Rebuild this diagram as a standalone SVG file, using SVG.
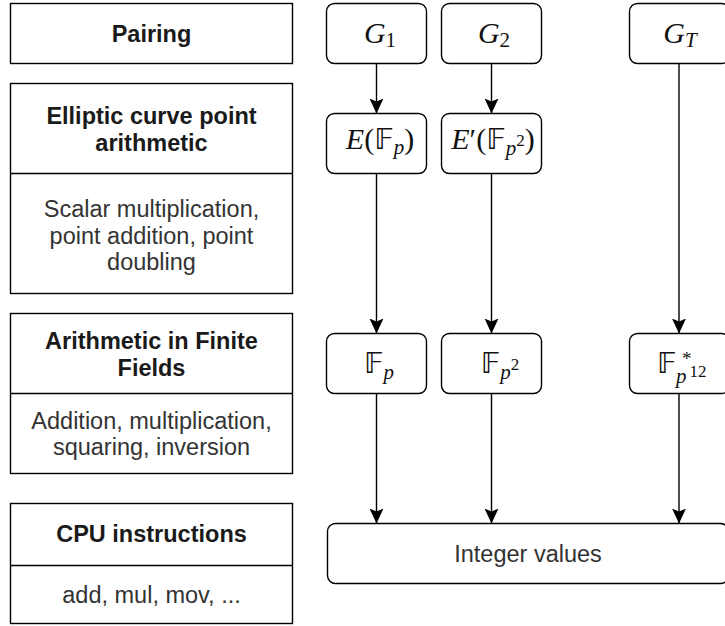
<svg xmlns="http://www.w3.org/2000/svg" width="725" height="626" viewBox="0 0 725 626">
  <defs>
    <style>
      .box{fill:#fff;stroke:#000;stroke-width:1.4}
      .div{stroke:#000;stroke-width:1.4}
      .node{fill:#fff;stroke:#000;stroke-width:1.4}
      .lbl{font-family:"Liberation Sans",Arial,sans-serif;font-size:23.5px;fill:#333;text-anchor:middle}
      .hd{font-weight:bold;fill:#1a1a1a}
      .m{font-family:"Liberation Serif","Times New Roman",serif;font-size:30px;fill:#111;text-anchor:middle}
      .i{font-style:italic}
      .bb{font-family:"DejaVu Sans",sans-serif;font-style:normal;font-size:29px}
      .s{font-size:21px}
      .ss{font-size:17px}
      .st{font-size:19px}
      .edge{stroke:#000;stroke-width:1.4;fill:none;marker-end:url(#arr)}
    </style>
    <marker id="arr" markerUnits="userSpaceOnUse" markerWidth="16" markerHeight="15" viewBox="0 0 16 15" refX="15" refY="7.5" orient="auto">
      <path d="M0,0.5 L15,7.5 L0,14.5 L3,7.5 Z" fill="#000"/>
    </marker>
  </defs>

  <rect width="725" height="626" fill="#fff"/>

  <!-- layer descriptions (left column) -->
  <g id="layer-pairing">
    <rect class="box" x="10.5" y="3.5" width="282" height="60"/>
    <text class="lbl hd" x="151.5" y="42">Pairing</text>
  </g>
  <g id="layer-ec">
    <rect class="box" x="10.5" y="83.5" width="282" height="210"/>
    <line class="div" x1="10.5" y1="173.5" x2="292.5" y2="173.5"/>
    <text class="lbl hd" x="151.5" y="123.5">Elliptic curve point</text>
    <text class="lbl hd" x="151.5" y="150.5">arithmetic</text>
    <text class="lbl" x="151.5" y="217">Scalar multiplication,</text>
    <text class="lbl" x="151.5" y="243.5">point addition, point</text>
    <text class="lbl" x="151.5" y="270">doubling</text>
  </g>
  <g id="layer-ff">
    <rect class="box" x="10.5" y="313.5" width="282" height="160"/>
    <line class="div" x1="10.5" y1="393.5" x2="292.5" y2="393.5"/>
    <text class="lbl hd" x="151.5" y="349">Arithmetic in Finite</text>
    <text class="lbl hd" x="151.5" y="375.5">Fields</text>
    <text class="lbl" x="151.5" y="428.5">Addition, multiplication,</text>
    <text class="lbl" x="151.5" y="455">squaring, inversion</text>
  </g>
  <g id="layer-cpu">
    <rect class="box" x="10.5" y="503.5" width="282" height="120"/>
    <line class="div" x1="10.5" y1="565.5" x2="292.5" y2="565.5"/>
    <text class="lbl hd" x="151.5" y="542">CPU instructions</text>
    <text class="lbl" x="151.5" y="603">add, mul, mov, ...</text>
  </g>

  <!-- connectors -->
  <g id="edges">
    <line class="edge" x1="376.5" y1="63.5" x2="376.5" y2="113.5"/>
    <line class="edge" x1="491.5" y1="63.5" x2="491.5" y2="113.5"/>
    <line class="edge" x1="376.5" y1="173.5" x2="376.5" y2="333.5"/>
    <line class="edge" x1="491.5" y1="173.5" x2="491.5" y2="333.5"/>
    <line class="edge" x1="679" y1="63.5" x2="679" y2="333.5"/>
    <line class="edge" x1="376.5" y1="393.5" x2="376.5" y2="523.5"/>
    <line class="edge" x1="491.5" y1="393.5" x2="491.5" y2="523.5"/>
    <line class="edge" x1="679" y1="393.5" x2="679" y2="523.5"/>
  </g>

  <!-- group nodes -->
  <g id="g1">
    <rect class="node" x="326.5" y="3.5" width="100" height="60" rx="8"/>
    <text class="m" x="380" y="43"><tspan class="i">G</tspan><tspan class="s" dy="4">1</tspan></text>
  </g>
  <g id="g2">
    <rect class="node" x="441.5" y="3.5" width="100" height="60" rx="8"/>
    <text class="m" x="494" y="43"><tspan class="i">G</tspan><tspan class="s" dy="4">2</tspan></text>
  </g>
  <g id="gt">
    <rect class="node" x="629.5" y="3.5" width="100" height="60" rx="8"/>
    <text class="m" x="680" y="43"><tspan class="i">G</tspan><tspan class="s i" dy="4">T</tspan></text>
  </g>

  <!-- curve nodes -->
  <g id="e1">
    <rect class="node" x="326.5" y="113.5" width="100" height="60" rx="8"/>
    <text class="m" x="380" y="149"><tspan class="i">E</tspan>(<tspan class="bb">𝔽</tspan><tspan class="s i" dy="5">p</tspan><tspan dy="-5">)</tspan></text>
  </g>
  <g id="e2">
    <rect class="node" x="441.5" y="113.5" width="100" height="60" rx="8"/>
    <text class="m" x="493" y="149"><tspan class="i">E</tspan>′(<tspan class="bb">𝔽</tspan><tspan class="s i" dy="6">p</tspan><tspan class="ss" dy="-9">2</tspan><tspan dy="3">)</tspan></text>
  </g>

  <!-- field nodes -->
  <g id="fp">
    <rect class="node" x="326.5" y="333.5" width="100" height="60" rx="8"/>
    <text class="m" x="379" y="373"><tspan class="bb">𝔽</tspan><tspan class="s i" dy="6">p</tspan></text>
  </g>
  <g id="fp2">
    <rect class="node" x="441.5" y="333.5" width="100" height="60" rx="8"/>
    <text class="m" x="500" y="373"><tspan class="bb">𝔽</tspan><tspan class="s i" dy="6">p</tspan><tspan class="ss" dy="-9">2</tspan></text>
  </g>
  <g id="fp12">
    <rect class="node" x="629.5" y="333.5" width="100" height="60" rx="8"/>
    <text class="m" x="657" y="373" style="text-anchor:start"><tspan class="bb">𝔽</tspan><tspan class="st" x="682" dy="-8">*</tspan><tspan class="s i" x="676" dy="18">p</tspan><tspan class="ss" dx="3" dy="-6">12</tspan></text>
  </g>

  <!-- base integer representation -->
  <g id="integers">
    <rect class="node" x="327.5" y="523.5" width="401" height="60" rx="8"/>
    <text class="lbl" x="528" y="562">Integer values</text>
  </g>
</svg>
